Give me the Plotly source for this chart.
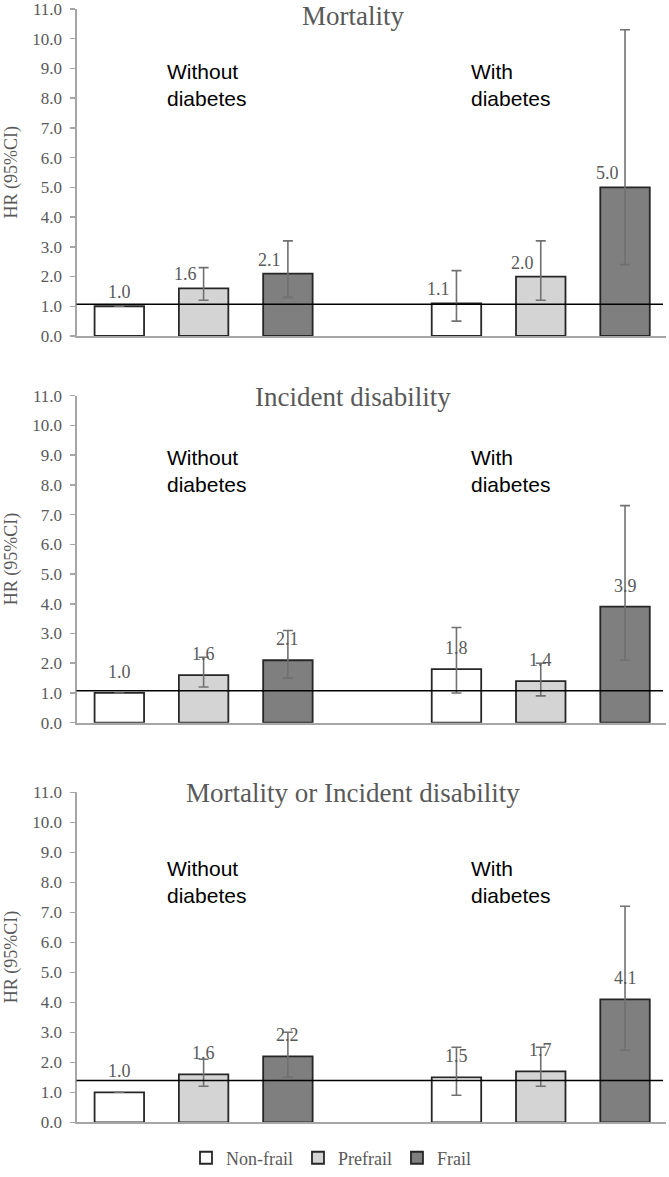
import plotly.graph_objects as go

# ---------------- data ----------------
outcomes = ["Mortality", "Incident disability", "Mortality or Incident disability"]
groups = ["Without<br>diabetes", "With<br>diabetes"]
statuses = ["Non-frail", "Prefrail", "Frail"]

# HR values: order [without: non-frail, prefrail, frail, with: non-frail, prefrail, frail]
hr_mortality = [1.0, 1.6, 2.1, 1.1, 2.0, 5.0]
lo_mortality = [1.0, 1.2, 1.3, 0.5, 1.2, 2.4]
hi_mortality = [1.0, 2.3, 3.2, 2.2, 3.2, 10.3]

hr_disability = [1.0, 1.6, 2.1, 1.8, 1.4, 3.9]
lo_disability = [1.0, 1.2, 1.5, 1.0, 0.9, 2.1]
hi_disability = [1.0, 2.2, 3.1, 3.2, 2.0, 7.3]

hr_combined = [1.0, 1.6, 2.2, 1.5, 1.7, 4.1]
lo_combined = [1.0, 1.2, 1.5, 0.9, 1.2, 2.4]
hi_combined = [1.0, 2.1, 3.0, 2.5, 2.5, 7.2]

ref_lines = [1.07, 1.07, 1.39]
y_ticks = [0, 1, 2, 3, 4, 5, 6, 7, 8, 9, 10, 11]

panels = [
    (hr_mortality, lo_mortality, hi_mortality),
    (hr_disability, lo_disability, hi_disability),
    (hr_combined, lo_combined, hi_combined),
]

# ---------------- styles ----------------
fills = ["#ffffff", "#d4d4d4", "#7f7f7f"]
SERIF = "Liberation Serif, Times New Roman, serif"
SANS = "Liberation Sans, Arial, sans-serif"
GREY_TXT = "#595959"
AXIS_GREY = "#a6a6a6"
ERR_GREY = "#707070"

W, H = 669, 1177
# pixel geometry in screen coordinates (top, bottom)
panel_px = [(9, 338), (398, 727), (797, 1129)]
title_px = [16, 399, 798]
grp_px = [58, 447, 860]
grp_label_x = [1.54, 5.15]
x_left_px, x_right_px = 76.5, 666

def px_x(x):
    return x / W

def py(y):
    return 1 - y / H

fig = go.Figure()
layout = dict(
    width=W, height=H,
    margin=dict(l=0, r=0, t=0, b=0),
    paper_bgcolor="white", plot_bgcolor="white",
    barmode="overlay",
    showlegend=True,
    legend=dict(orientation="h", x=px_x(331), xanchor="center", y=py(1165), yanchor="middle",
                font=dict(family=SERIF, size=18, color=GREY_TXT), itemwidth=30,
                traceorder="normal", bgcolor="rgba(0,0,0,0)"),
)
annotations = []
shapes = []

for p, (hr, lo, hi) in enumerate(panels):
    sfx = "" if p == 0 else str(p + 1)
    xa, ya = "x" + sfx, "y" + sfx
    for s, status in enumerate(statuses):
        xs, ys, ep, em = [], [], [], []
        for g in range(len(groups)):
            i = g * 3 + s
            xs.append(g * 4 + s + 1)
            ys.append(hr[i])
            ep.append(round(hi[i] - hr[i], 3))
            em.append(round(hr[i] - lo[i], 3))
        fig.add_trace(go.Bar(
            x=xs, y=ys, width=0.587, name=status,
            marker=dict(color=fills[s], line=dict(color="#262626", width=1.8)),
            error_y=dict(type="data", symmetric=False, array=ep, arrayminus=em,
                         color=ERR_GREY, thickness=1.6, width=5),
            xaxis=xa, yaxis=ya, legendgroup=status, showlegend=(p == 0),
            hoverinfo="skip",
        ))
    top, bot = panel_px[p]
    layout["xaxis" + sfx] = dict(
        domain=[px_x(x_left_px), px_x(x_right_px)], range=[0.492, 7.486],
        showline=True, linecolor=AXIS_GREY, linewidth=2, showticklabels=False,
        ticks="", showgrid=False, zeroline=False, anchor=ya, fixedrange=True,
    )
    layout["yaxis" + sfx] = dict(
        domain=[py(bot), py(top)], range=[0, 11], tickvals=y_ticks, tickformat=".1f",
        showline=True, linecolor=AXIS_GREY, linewidth=2, ticks="outside", ticklen=5,
        tickcolor=AXIS_GREY, tickwidth=1.5, showgrid=False, zeroline=False,
        tickfont=dict(family=SERIF, size=17, color=GREY_TXT), ticklabelstandoff=4,
        ticklabeloverflow="allow",
        anchor=xa, automargin=False, fixedrange=True,
    )
    # reference line
    shapes.append(dict(type="line", xref=xa + " domain", yref=ya, x0=0, x1=0.995,
                       y0=ref_lines[p], y1=ref_lines[p],
                       line=dict(color="#000000", width=1.5), layer="above"))
    # panel title
    annotations.append(dict(text=outcomes[p], xref="paper", yref="paper", x=px_x(353),
                            y=py(title_px[p]), xanchor="center", yanchor="middle",
                            showarrow=False, font=dict(family=SERIF, size=27, color=GREY_TXT)))
    # y-axis title
    annotations.append(dict(text="HR (95%CI)", xref="paper", yref=ya + " domain", x=px_x(11),
                            y=0.5, xanchor="center", yanchor="middle", textangle=-90,
                            showarrow=False, font=dict(family=SERIF, size=18, color=GREY_TXT)))
    # group labels
    for g, gl in enumerate(groups):
        annotations.append(dict(text=gl, xref=xa, yref="paper", x=grp_label_x[g],
                                y=py(grp_px[p]), xanchor="left", yanchor="top", align="left",
                                showarrow=False, font=dict(family=SANS, size=21, color="#000000")))
    # data labels
    for i in range(len(hr)):
        g, s = divmod(i, 3)
        shift_left = (p == 0 and hi[i] > hr[i])
        annotations.append(dict(text=f"{hr[i]:.1f}", xref=xa, yref=ya, x=g * 4 + s + 1, y=hr[i],
                                xanchor="center", yanchor="bottom", showarrow=False,
                                xshift=-18 if shift_left else 0, yshift=2 if p == 0 else 9,
                                font=dict(family=SERIF, size=18, color=GREY_TXT)))

layout["annotations"] = annotations
layout["shapes"] = shapes
fig.update_layout(**layout)
fig.write_html("out.html", config={"displayModeBar": False, "staticPlot": True},
               post_script="document.body.style.margin='0px';document.body.style.padding='0px';"
                           "document.body.style.overflow='hidden';")
